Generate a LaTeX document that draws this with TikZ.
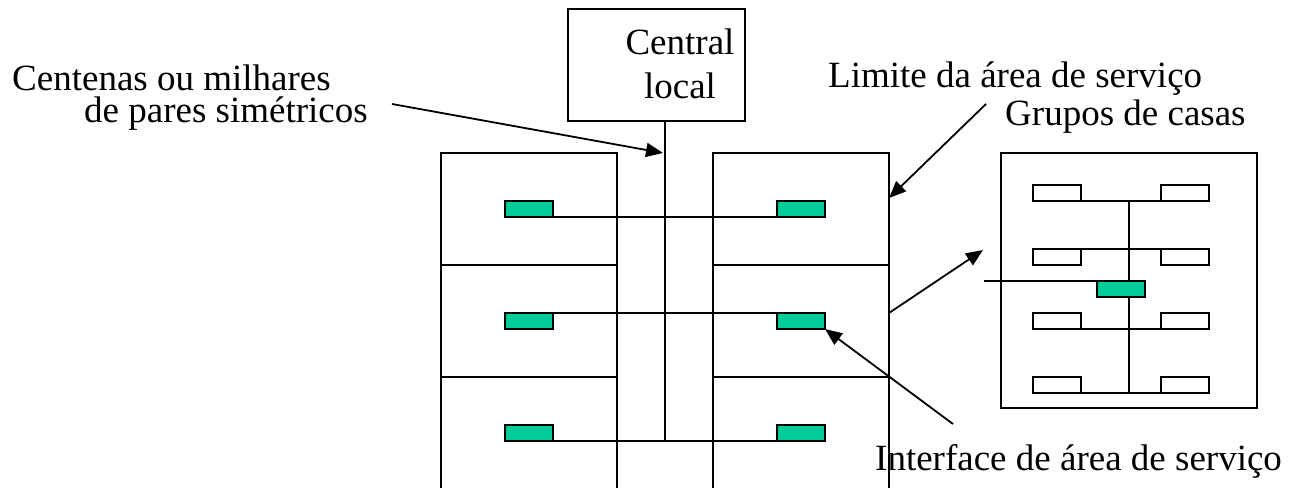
\documentclass[tikz,border=0pt]{standalone}
\usepackage{fontspec}
\setmainfont{Liberation Serif}
\usetikzlibrary{arrows.meta}
\definecolor{saigreen}{RGB}{0,204,153}
\begin{document}
\begin{tikzpicture}[x=1pt,y=-1pt,
  wire/.style={line width=1.8pt},
  sai/.style={draw, line width=1.8pt, fill=saigreen, minimum width=48pt,
    minimum height=16pt, inner sep=0pt, outer sep=0pt},
  house/.style={draw, line width=1.8pt, fill=white, minimum width=48pt,
    minimum height=16pt, inner sep=0pt, outer sep=0pt},
  lbl/.style={font=\fontsize{37}{40}\selectfont, inner sep=0pt, anchor=base west},
  ctr/.style={font=\fontsize{37}{40}\selectfont, inner sep=0pt, anchor=base},
  pointer/.style={line width=1.8pt, -{Triangle[length=17pt,width=14pt]}}]
\useasboundingbox (0,0) rectangle (1289,487);

% central office
\node[draw, line width=1.8pt, minimum width=177pt, minimum height=112pt,
  inner sep=0pt, outer sep=0pt] (central) at (656.5,65) {};
\node[ctr] (centralA) at (680,55) {Central};
\node[ctr] (centralB) at (680,98) {local};

% two columns of serving areas
\draw[wire] (441,490) -- (441,153) -- (617,153) -- (617,490);
\draw[wire] (713,490) -- (713,153) -- (889,153) -- (889,490);
\draw[wire] (441,265) -- (617,265) (441,377) -- (617,377);
\draw[wire] (713,265) -- (889,265) (713,377) -- (889,377);

% serving area interfaces
\node[sai] (gL1) at (529,209) {};
\node[sai] (gR1) at (801,209) {};
\node[sai] (gL2) at (529,321) {};
\node[sai] (gR2) at (801,321) {};
\node[sai] (gL3) at (529,433) {};
\node[sai] (gR3) at (801,433) {};

% feeder cable
\coordinate (trunkEnd) at (665,441);
\draw[wire] ([xshift=8.5pt]central.south) -- (trunkEnd);
\draw[wire] (gL1.south east) -- (gR1.south west);
\draw[wire] (gL2.north east) -- (gR2.north west);
\draw[wire] (gL3.south east) -- (gR3.south west);

% detail of one serving area
\node[draw, line width=1.8pt, minimum width=256pt, minimum height=255pt,
  inner sep=0pt, outer sep=0pt] (area) at (1129,280.5) {};
\node[house] (h1l) at (1057,193) {};
\node[house] (h1r) at (1185,193) {};
\node[house] (h2l) at (1057,257) {};
\node[house] (h2r) at (1185,257) {};
\node[house] (h3l) at (1057,321) {};
\node[house] (h3r) at (1185,321) {};
\node[house] (h4l) at (1057,385) {};
\node[house] (h4r) at (1185,385) {};
\draw[wire] (area.center |- h1l.south) -- (area.center |- h4l.south);
\draw[wire] (h1l.south east) -- (h1r.south west);
\draw[wire] (h2l.north east) -- (h2r.north west);
\draw[wire] (h3l.south east) -- (h3r.south west);
\draw[wire] (h4l.south east) -- (h4r.south west);
\node[sai] (gA) at (1121,289) {};
\coordinate (feedIn) at (984,281);
\draw[wire] (feedIn) -- (gA.north west);

% labels
\node[lbl] (pairsA) at (12,90) {Centenas ou milhares};
\node[lbl] (pairsB) at (84,122) {de pares simétricos};
\node[lbl] (limit) at (828,87) {Limite da área de serviço};
\node[lbl] (groups) at (1005,125) {Grupos de casas};
\node[lbl] (iface) at (875,470) {Interface de área de serviço};

% pointers
\coordinate (pairsTail) at (392,104);
\coordinate (pairsTip) at (663,153);
\draw[pointer] (pairsTail) -- (pairsTip);
\coordinate (limitTail) at (986,104);
\coordinate (limitTip) at (889,198);
\draw[pointer] (limitTail) -- (limitTip);
\coordinate (zoomTail) at (889,313);
\coordinate (zoomTip) at (983,250);
\draw[pointer] (zoomTail) -- (zoomTip);
\coordinate (ifaceTail) at (953,424);
\draw[pointer] (ifaceTail) -- (gR2.south east);
\end{tikzpicture}
\end{document}
